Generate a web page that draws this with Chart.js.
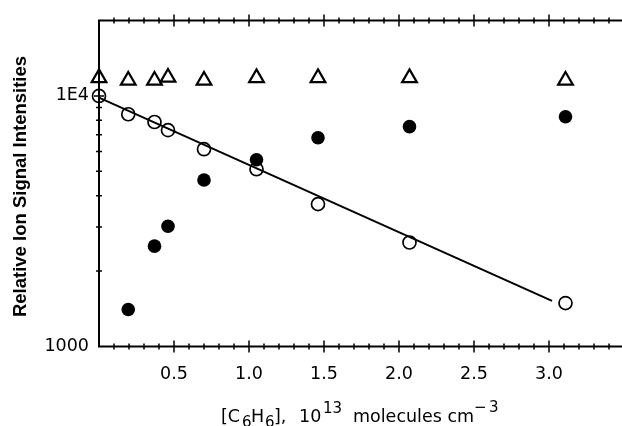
<!DOCTYPE html>
<html>
<head>
<meta charset="utf-8">
<script src="https://cdn.jsdelivr.net/npm/chart.js@4.4.0/dist/chart.umd.min.js"></script>
<style>
    html, body { margin: 0; padding: 0; background: #fff; overflow: hidden; }
    #wrap { width: 640px; height: 426px; position: relative; }
</style>
</head>
<body>
<div id="wrap"><canvas id="ionChart"></canvas></div>
<script>
// benzene concentration, 10^13 molecules cm^-3
const conc = [0, 0.195, 0.37, 0.46, 0.70, 1.05, 1.46, 2.07, 3.11];
// relative ion signal intensities
const triangleSignal = [11800, 11530, 11530, 11850, 11530, 11800, 11800, 11800, 11530];
const openSignal = [10000, 8450, 7870, 7300, 6130, 5100, 3700, 2600, 1490];
const filledSignal = [null, 1405, 2515, 3020, 4617, 5560, 6810, 7540, 8260];
// straight-line fit through the open circles
const fitConc = [0, 3.02];
const fitSignal = [9850, 1520];

const xTickValues = [0.5, 1.0, 1.5, 2.0, 2.5, 3.0];
const xTickLabels = ['0.5', '1.0', '1.5', '2.0', '2.5', '3.0'];
const yTickValues = [1000, 10000];
const yTickLabels = ['1000', '1E4'];

const toPoints = (xs, ys) =>
    xs.map((x, i) => ({ x: x, y: ys[i] })).filter((p) => p.y !== null);

const tickFont = { family: 'DejaVu Sans', size: 17.5 };

// frame with ticks crossing the axis lines, plus the axis titles
const framePlugin = {
    id: 'frame',
    afterDraw(chart) {
        const ctx = chart.ctx;
        const area = chart.chartArea;
        const xs = chart.scales.x;
        const ys = chart.scales.y;
        ctx.save();
        ctx.strokeStyle = '#000';
        ctx.lineWidth = 2;
        ctx.beginPath();
        ctx.moveTo(area.left, area.top);
        ctx.lineTo(area.left, area.bottom);
        ctx.moveTo(area.left - 1, area.bottom);
        ctx.lineTo(area.right, area.bottom);
        ctx.moveTo(area.left - 1, area.top);
        ctx.lineTo(area.right, area.top);
        ctx.stroke();

        ctx.lineWidth = 1.5;
        ctx.beginPath();
        for (let i = 1; i < 35; i++) {
            const px = xs.getPixelForValue(i / 10);
            const len = i % 5 === 0 ? 6 : 3;
            ctx.moveTo(px, area.bottom - len);
            ctx.lineTo(px, area.bottom + len);
            ctx.moveTo(px, area.top - len);
            ctx.lineTo(px, area.top + len);
        }
        for (let m = 2; m <= 10; m++) {
            const py = ys.getPixelForValue(m * 1000);
            const len = m === 10 ? 5 : 3;
            ctx.moveTo(area.left - len, py);
            ctx.lineTo(area.left + len, py);
        }
        ctx.stroke();

        ctx.fillStyle = '#000';
        // y title
        ctx.save();
        ctx.translate(26, 186.5);
        ctx.rotate(-Math.PI / 2);
        ctx.font = 'bold 18.5px "Liberation Sans"';
        ctx.textAlign = 'center';
        ctx.textBaseline = 'alphabetic';
        ctx.fillText('Relative Ion Signal Intensities', 0, 0);
        ctx.restore();

        // x title with sub- and superscripts
        const main = '17.5px "DejaVu Sans"';
        const small = '15px "DejaVu Sans"';
        const parts = [
            ['[C', 221, 422, main],
            ['6', 242, 427, small],
            ['H', 251, 422, main],
            ['6', 265, 427, small],
            ['],', 274, 422, main],
            ['10', 299, 422, main],
            ['13', 323, 413, small],
            ['molecules cm', 353, 422, main],
            ['\u2212', 474, 412, small],
            ['3', 489, 412, small],
        ];
        ctx.textAlign = 'left';
        ctx.textBaseline = 'alphabetic';
        parts.forEach((p) => {
            ctx.font = p[3];
            ctx.fillText(p[0], p[1], p[2]);
        });
        ctx.restore();
    },
};

new Chart('ionChart', {
    type: 'scatter',
    data: {
        datasets: [
            {
                label: 'fit',
                data: toPoints(fitConc, fitSignal),
                showLine: true,
                borderColor: '#000',
                borderWidth: 2,
                pointRadius: 0,
                clip: false,
            },
            {
                label: 'open',
                data: toPoints(conc, openSignal),
                pointStyle: 'circle',
                pointRadius: 6.5,
                borderWidth: 1.7,
                borderColor: '#000',
                backgroundColor: 'rgba(0,0,0,0)',
                clip: false,
            },
            {
                label: 'filled',
                data: toPoints(conc, filledSignal),
                pointStyle: 'circle',
                pointRadius: 6.8,
                borderWidth: 0,
                backgroundColor: '#000',
                clip: false,
            },
            {
                label: 'triangle',
                data: toPoints(conc, triangleSignal),
                pointStyle: 'triangle',
                pointRadius: 8.5,
                borderWidth: 2.2,
                borderColor: '#000',
                backgroundColor: 'rgba(0,0,0,0)',
                clip: false,
            },
        ],
    },
    options: {
        responsive: true,
        maintainAspectRatio: false,
        animation: false,
        layout: { padding: { top: 18, right: 16, left: 0, bottom: 0 } },
        plugins: {
            legend: { display: false },
            tooltip: { enabled: false },
        },
        scales: {
            x: {
                type: 'linear',
                min: 0,
                max: 3.5,
                afterBuildTicks: (scale) => {
                    scale.ticks = xTickValues.map((v) => ({ value: v }));
                },
                afterFit: (scale) => {
                    scale.height = 426 - 346.5;
                },
                ticks: {
                    callback: (v, i) => xTickLabels[i],
                    font: tickFont,
                    color: '#000',
                    padding: 17,
                    maxRotation: 0,
                    autoSkip: false,
                },
                grid: { display: false, drawTicks: false },
                border: { display: false },
            },
            y: {
                type: 'logarithmic',
                min: 1000,
                max: 20000,
                afterBuildTicks: (scale) => {
                    scale.ticks = yTickValues.map((v) => ({ value: v }));
                },
                afterFit: (scale) => {
                    scale.width = 99;
                },
                ticks: {
                    callback: (v, i) => yTickLabels[i],
                    font: tickFont,
                    color: '#000',
                    padding: 10,
                    autoSkip: false,
                },
                grid: { display: false, drawTicks: false },
                border: { display: false },
            },
        },
    },
    plugins: [framePlugin],
});
</script>
</body>
</html>
